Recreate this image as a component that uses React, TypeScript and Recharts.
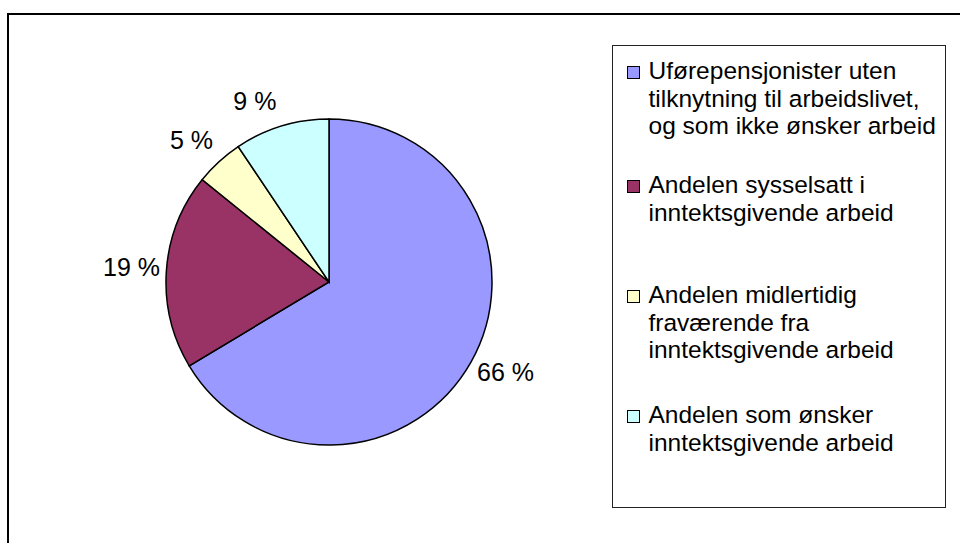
import { PieChart, Pie, Cell, Legend } from "recharts";

// Andeler (prosent), lest av figuren
const CATEGORIES = [
  "Uførepensjonister uten tilknytning til arbeidslivet, og som ikke ønsker arbeid",
  "Andelen sysselsatt i inntektsgivende arbeid",
  "Andelen midlertidig fraværende fra inntektsgivende arbeid",
  "Andelen som ønsker inntektsgivende arbeid",
];
const SHARES = [66.4, 19.4, 4.8, 9.4];
const COLORS = ["#9999FF", "#993366", "#FFFFCC", "#CCFFFF"];

const data = CATEGORIES.map((name, i) => ({ name, value: SHARES[i] }));

const FONT = '"Liberation Sans", Arial, sans-serif';
const RAD = Math.PI / 180;
// small angular nudges (degrees) to mimic Excel's label placement
const LABEL_NUDGE = [2.6, -0.4, 1.5, 5.3];
// space under each legend entry, Excel spaces them unevenly
const LEGEND_GAPS = [31.5, 55, 37.5, 0];

function renderLabel(props: any) {
  const { cx, cy, midAngle, outerRadius, value, index } = props;
  const r = outerRadius + (index === 3 ? 33 : 35);
  const a = midAngle + (LABEL_NUDGE[index] ?? 0);
  const x = cx + r * Math.cos(-a * RAD);
  const y = cy + r * Math.sin(-a * RAD);
  return (
    <text
      x={x}
      y={y}
      textAnchor="middle"
      dominantBaseline="central"
      fill="#000"
      fontSize={25}
      fontFamily={FONT}
    >
      {`${Math.round(value)} %`}
    </text>
  );
}

function LegendBox() {
  return (
    <div
      style={{
        boxSizing: "border-box",
        width: 334,
        height: 463,
        border: "1px solid #222",
        background: "#fff",
        paddingTop: 11,
        fontFamily: FONT,
        fontSize: 24.5,
        lineHeight: "27.5px",
        color: "#000",
      }}
    >
      {CATEGORIES.map((name, i) => (
        <div
          key={name}
          style={{ display: "flex", alignItems: "flex-start", marginBottom: LEGEND_GAPS[i] }}
        >
          <span
            style={{
              width: 13,
              height: 13,
              boxSizing: "border-box",
              border: "1.5px solid #000",
              background: COLORS[i],
              marginLeft: 14,
              marginTop: 9,
              flexShrink: 0,
            }}
          />
          <span style={{ marginLeft: 8.5, width: 296 }}>{name}</span>
        </div>
      ))}
    </div>
  );
}

export default function App() {
  return (
    <div
      style={{
        position: "fixed",
        left: 0,
        top: 0,
        width: 960,
        height: 543,
        overflow: "hidden",
        background: "#fff",
      }}
    >
      <div
        style={{
          position: "absolute",
          left: 7,
          top: 13,
          width: 1000,
          height: 600,
          border: "2.5px solid #000",
        }}
      />
      <div style={{ position: "absolute", left: 0, top: 0 }}>
        <PieChart width={960} height={543} margin={{ top: 0, right: 0, bottom: 0, left: 0 }}>
          <Pie
            data={data}
            dataKey="value"
            nameKey="name"
            cx={329}
            cy={282}
            outerRadius={163}
            startAngle={90}
            endAngle={-270}
            stroke="#000"
            strokeWidth={1.5}
            label={renderLabel}
            labelLine={false}
            isAnimationActive={false}
          >
            {data.map((_, i) => (
              <Cell key={i} fill={COLORS[i]} />
            ))}
          </Pie>
          <Legend
            layout="vertical"
            align="right"
            verticalAlign="top"
            content={<LegendBox />}
            wrapperStyle={{ left: 612, top: 45, width: 334, height: 463 }}
          />
        </PieChart>
      </div>
    </div>
  );
}
